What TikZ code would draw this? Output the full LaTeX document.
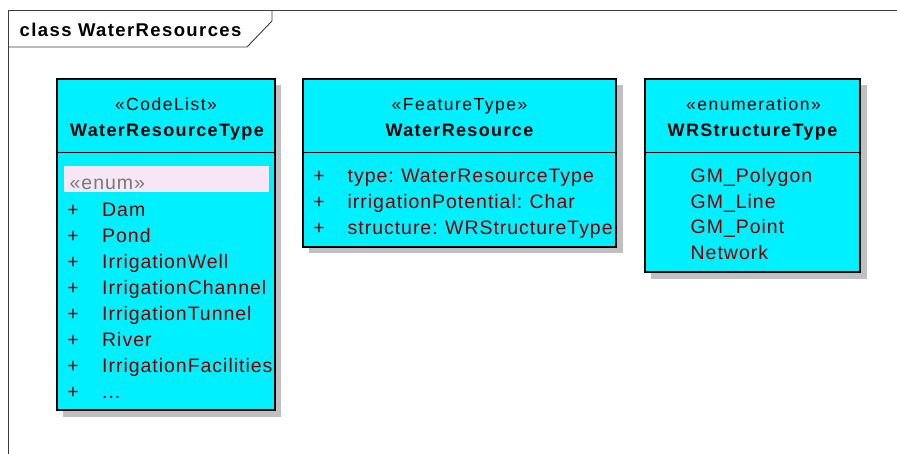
\documentclass[tikz,border=0pt]{standalone}
\usepackage{fontspec}
\setmainfont{Liberation Sans}
\newfontfamily\stfont[LetterSpace=8.5]{Liberation Sans}
\newfontfamily\nmfont[LetterSpace=7.5]{Liberation Sans}
\newfontfamily\atfont[LetterSpace=5]{Liberation Sans}
\definecolor{clsfill}{RGB}{0,240,255}
\definecolor{attrcol}{RGB}{128,0,0}
\definecolor{enumband}{RGB}{246,230,246}
\definecolor{shadecol}{RGB}{192,192,192}
\definecolor{framecol}{RGB}{60,60,60}
\definecolor{stereogray}{RGB}{120,120,120}
\tikzset{
  classbox/.style={draw=black, line width=1.6pt, fill=clsfill},
  boxshade/.style={fill=shadecol},
  divider/.style={draw=black, line width=1.6pt},
  stereo/.style={inner sep=0pt, anchor=base, font=\stfont\fontsize{17.5}{20}\selectfont},
  clsname/.style={inner sep=0pt, anchor=base, font=\nmfont\bfseries\fontsize{18}{20}\selectfont},
  attr/.style={inner sep=0pt, anchor=base west, text=attrcol, font=\atfont\fontsize{19.5}{22}\selectfont},
  vis/.style={inner sep=0pt, anchor=base, text=attrcol, font=\atfont\fontsize{19.5}{22}\selectfont},
  framestyle/.style={draw=framecol, line width=0.9pt},
}
\newcommand\typegap{\ \hspace{1pt}}
\begin{document}
\begin{tikzpicture}[x=1pt, y=-1pt]
\useasboundingbox (0,0) rectangle (897,454);
\fill[white] (0,0) rectangle (897,454);

% diagram frame and its name tab
\draw[framestyle] (8,454) -- (8,10.5) -- (897,10.5);
\draw[framestyle] (272,10.5) -- (272,21) -- (247,47) -- (8,47);
\node[inner sep=0pt, anchor=base west, font=\nmfont\bfseries\fontsize{18.5}{20}\selectfont]
  (title) at (19.5,37) {class WaterResources};

% ---- WaterResourceType (code list) ----
\fill[boxshade] (63,85) rectangle (281,417);
\draw[classbox] (57,79) rectangle (275,410);
\draw[divider] (57,152.5) -- (275,152.5);
\node[stereo]  (wrtS) at (166,110.5) {«CodeList»};
\node[clsname] (wrtN) at (167,136.5) {WaterResourceType};
\fill[enumband] (63.5,166) rectangle (269,192.5);
\node[attr, text=stereogray] (wrtE) at (69.5,190) {«enum»};
\foreach \lbl [count=\i from 0] in {Dam,Pond,IrrigationWell,IrrigationChannel,IrrigationTunnel,River,IrrigationFacilities}{
  \node[vis]  (wrtP\i) at (73,216.5+26*\i) {+};
  \node[attr] (wrtA\i) at (102,216.5+26*\i) {\lbl};
}
\node[vis]  (wrtP7) at (73,398.5) {+};
\node[attr] (wrtA7) at (102,398.5) {...};

% ---- WaterResource (feature type) ----
\fill[boxshade] (309,85) rectangle (623,253);
\draw[classbox] (303,79) rectangle (616,247);
\draw[divider] (303,152.5) -- (616,152.5);
\node[stereo]  (wrS) at (459.5,110.5) {«FeatureType»};
\node[clsname] (wrN) at (459.5,136.5) {WaterResource};
\foreach \lbl [count=\i from 0] in {type:\typegap WaterResourceType,irrigationPotential:\typegap Char,structure:\typegap WRStructureType}{
  \node[vis]  (wrP\i) at (319,182.5+26*\i) {+};
  \node[attr] (wrA\i) at (347.5,182.5+26*\i) {\lbl};
}

% ---- WRStructureType (enumeration) ----
\fill[boxshade] (651,85) rectangle (867,279);
\draw[classbox] (645,79) rectangle (860,272);
\draw[divider] (645,152.5) -- (860,152.5);
\node[stereo]  (stS) at (753.5,110.5) {«enumeration»};
\node[clsname] (stN) at (752.5,136.5) {WRStructureType};
\foreach \lbl [count=\i from 0] in {GM\_Polygon,GM\_Line,GM\_Point,Network}{
  \node[attr] (stA\i) at (690.5,182.5+25.6*\i) {\lbl};
}
\end{tikzpicture}
\end{document}
